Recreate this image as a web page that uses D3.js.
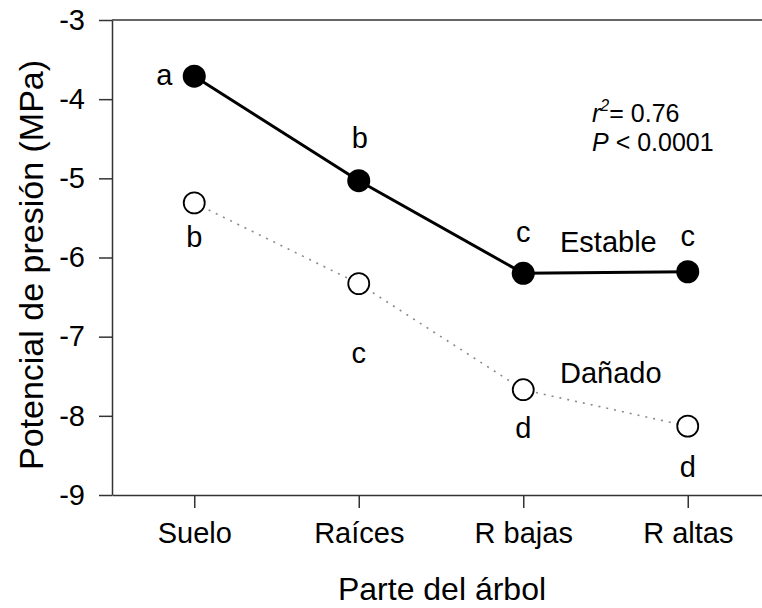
<!DOCTYPE html>
<html>
<head>
<meta charset="utf-8">
<script src="https://cdn.jsdelivr.net/npm/d3@7"></script>
<style>
  body { margin: 0; background: #fff; }
  svg { display: block; font-family: "Liberation Sans", Arial, sans-serif; }
</style>
</head>
<body>
<div id="chart"></div>
<script>
// data
let parts = ["Suelo", "Raíces", "R bajas", "R altas"];
let estable = [-3.71, -5.03, -6.2, -6.18];
let danado = [-5.31, -6.33, -7.67, -8.13];
let estableLetters = ["a", "b", "c", "c"];
let danadoLetters = ["b", "c", "d", "d"];
let yTicks = [-3, -4, -5, -6, -7, -8, -9];

let width = 762,
  height = 608;

let svg = d3
  .select("#chart")
  .append("svg")
  .attr("width", width)
  .attr("height", height);

let x = d3.scalePoint().domain(parts).range([112, 770]).padding(0.5);
let y = d3.scaleLinear().domain([-9, -3]).range([495, 20]);

// left axis
let yAxis = svg
  .append("g")
  .attr("transform", "translate(112,0)")
  .call(
    d3.axisLeft(y)
      .tickValues(yTicks)
      .tickFormat((d) => String(d))
      .tickSize(13)
      .tickSizeOuter(0)
      .tickPadding(14)
  );

// bottom axis
let xAxis = svg
  .append("g")
  .attr("transform", "translate(0,495)")
  .call(d3.axisBottom(x).tickSize(13).tickSizeOuter(0).tickPadding(14));

[yAxis, xAxis].forEach((g) => {
  g.selectAll("path, line").attr("stroke", "#333").attr("stroke-width", 1.5);
  g.selectAll("text")
    .attr("fill", "#000")
    .style("font-size", "29px")
    .style("font-family", "'Liberation Sans', Arial, sans-serif");
});
xAxis.selectAll("text").attr("dy", "0.71em");

// top frame line
svg
  .append("line")
  .attr("x1", x.range()[0])
  .attr("x2", x.range()[1])
  .attr("y1", y(-3))
  .attr("y2", y(-3))
  .attr("stroke", "#333")
  .attr("stroke-width", 1.5);

// axis titles
svg
  .append("text")
  .attr("x", 442)
  .attr("y", 600)
  .attr("text-anchor", "middle")
  .style("font-size", "32px")
  .text("Parte del árbol");

svg
  .append("text")
  .attr("transform", "translate(43,265) rotate(-90)")
  .attr("text-anchor", "middle")
  .style("font-size", "34px")
  .text("Potencial de presión (MPa)");

let line = d3
  .line()
  .x((d, i) => x(parts[i]))
  .y((d) => y(d));

//dañado: dotted gray line with open circles
svg
  .append("path")
  .datum(danado)
  .attr("d", line)
  .attr("fill", "none")
  .attr("stroke", "#8a8a8a")
  .attr("stroke-width", 1.6)
  .attr("stroke-dasharray", "2,6");

svg
  .selectAll(".open")
  .data(danado)
  .join("circle")
  .attr("class", "open")
  .attr("cx", (d, i) => x(parts[i]))
  .attr("cy", (d) => y(d))
  .attr("r", 10.5)
  .attr("fill", "#fff")
  .attr("stroke", "#000")
  .attr("stroke-width", 1.8);

//estable: solid line with filled circles
svg
  .append("path")
  .datum(estable)
  .attr("d", line)
  .attr("fill", "none")
  .attr("stroke", "#000")
  .attr("stroke-width", 3);

svg
  .selectAll(".filled")
  .data(estable)
  .join("circle")
  .attr("class", "filled")
  .attr("cx", (d, i) => x(parts[i]))
  .attr("cy", (d) => y(d))
  .attr("r", 11.5)
  .attr("fill", "#000");

// letter annotations, offsets from each point
let estableOffsets = [
  { dx: -30, dy: 9 },
  { dx: 1, dy: -33 },
  { dx: 0, dy: -31 },
  { dx: 0, dy: -26 },
];
let danadoOffsets = [
  { dx: 0, dy: 44 },
  { dx: 0, dy: 79 },
  { dx: 0, dy: 48 },
  { dx: 0, dy: 51 },
];

function drawLetters(values, letters, offsets) {
  values.forEach((v, i) => {
    svg
      .append("text")
      .attr("x", x(parts[i]) + offsets[i].dx)
      .attr("y", y(v) + offsets[i].dy)
      .attr("text-anchor", "middle")
      .style("font-size", "29px")
      .text(letters[i]);
  });
}
drawLetters(estable, estableLetters, estableOffsets);
drawLetters(danado, danadoLetters, danadoOffsets);

// series labels
svg
  .append("text")
  .attr("x", 560)
  .attr("y", 252)
  .style("font-size", "29px")
  .text("Estable");

svg
  .append("text")
  .attr("x", 560)
  .attr("y", 383)
  .style("font-size", "29px")
  .text("Dañado");

// statistics
let r2 = svg
  .append("text")
  .attr("x", 592)
  .attr("y", 122)
  .style("font-size", "25px");
r2.append("tspan").style("font-style", "italic").text("r");
r2.append("tspan")
  .attr("dy", -11)
  .style("font-size", "16px")
  .style("font-style", "italic")
  .text("2");
r2.append("tspan").attr("dy", 11).text("= 0.76");

let p = svg
  .append("text")
  .attr("x", 592)
  .attr("y", 151)
  .style("font-size", "25px");
p.append("tspan").style("font-style", "italic").text("P");
p.append("tspan").text(" < 0.0001");
</script>
</body>
</html>
